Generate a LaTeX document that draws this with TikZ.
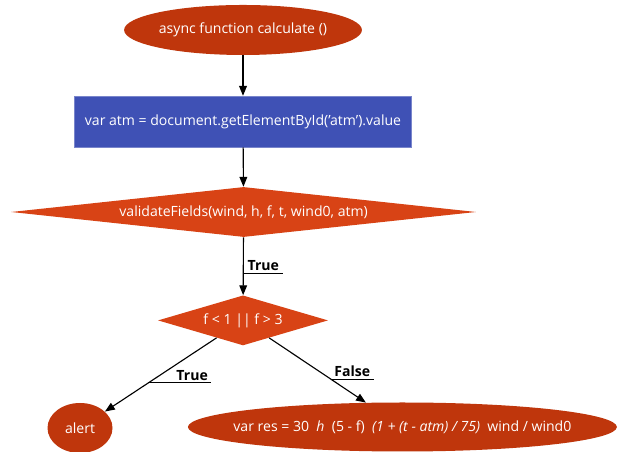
\documentclass[tikz,border=0pt]{standalone}
\usepackage{fontspec}
\setmainfont{Open Sans}
\usetikzlibrary{shapes.geometric, arrows.meta}
\definecolor{rosso}{HTML}{BF360C}
\definecolor{arancio}{HTML}{D84315}
\definecolor{indaco}{HTML}{3F51B5}
\tikzset{
  term/.style  = {ellipse, fill=rosso, text=white, inner sep=0pt, font=\fontsize{10}{12}\selectfont},
  stmt/.style  = {rectangle, fill=indaco, draw=indaco!70, text=white, inner sep=0pt, font=\fontsize{10}{12}\selectfont},
  dec/.style   = {diamond, fill=arancio, text=white, inner sep=0pt, font=\fontsize{10}{12}\selectfont},
  lbl/.style   = {font=\bfseries\fontsize{10}{12}\selectfont, inner xsep=2pt, inner ysep=1.5pt},
  u/.style     = {line width=0.7pt},
  l/.style     = {line width=0.8pt, -{Triangle[length=7pt, width=5.5pt]}}
}

\begin{document}
\begin{tikzpicture}[x=1cm, y=1cm]
  \useasboundingbox (0,0) rectangle (15.425,11.3);

  % blocchi principali
  \node[term, minimum width=5.75cm, minimum height=1.25cm] (start) at (6.075,10.55) {async function calculate ()};
  \node[stmt, minimum width=8.425cm, minimum height=1.275cm] (atm) at (6.075,8.26) {var atm = document.getElementById('atm').value};
  \node[dec, aspect=8.8, minimum width=11.625cm, minimum height=1.25cm] (val) at (6.09,6.0) {validateFields(wind, h, f, t, wind0, atm)};
  \node[dec, aspect=3.4, minimum width=4.25cm, minimum height=1.25cm] (cond) at (6.075,3.29) {f < 1 || f > 3};

  % uscite
  \node[term, minimum width=1.625cm, minimum height=1.25cm] (alert) at (2.0,0.6) {alert};
  \node[term, inner xsep=-0.6cm, minimum width=10.725cm, minimum height=1.225cm] (res) at (10.06,0.625)
    {var res = 30\ \ \textit{h}\ \ (5 - f)\ \ \textit{(1 + (t - atm) / 75)}\ \ wind / wind0};

  % ---------------- FLUSSO ----------------
  \draw[l] (start) -- (atm);
  \draw[l] (atm) -- (val);
  \draw[l] (val) -- (cond) node[lbl, anchor=south west, pos=.62, minimum width=0.975cm] (t1) {True};
  \draw[l] (cond) -- (alert) node[lbl, anchor=south west, pos=.61, text width=1.4cm, align=right] (t2) {True};
  \draw[l] (cond) -- (res) node[lbl, anchor=south west, pos=.64, minimum width=1.0cm] (f1) {False};

  % sottolineature etichette
  \draw[u] (t1.south west) -- (t1.south east);
  \draw[u] (t2.south west) -- (t2.south east);
  \draw[u] (f1.south west) -- (f1.south east);

\end{tikzpicture}
\end{document}
